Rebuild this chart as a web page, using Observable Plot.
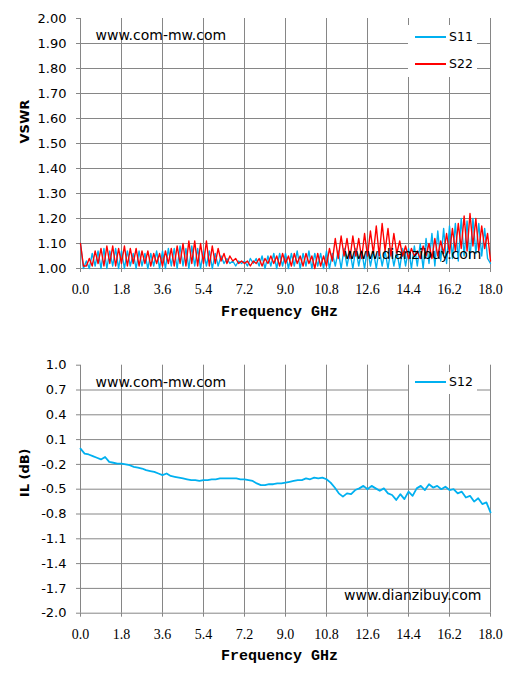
<!DOCTYPE html>
<html><head><meta charset="utf-8">
<script src="https://cdn.jsdelivr.net/npm/d3@7"></script>
<script src="https://cdn.jsdelivr.net/npm/@observablehq/plot@0.6"></script>
<style>
body{margin:0;background:#fff;width:515px;height:694px;position:relative;overflow:hidden;font-family:"DejaVu Sans",sans-serif}
.chart{position:absolute;left:0}
.lg{position:absolute;background:#fff}
.sw{position:absolute;height:1.5px}
.lt{position:absolute;font:12.5px "DejaVu Sans",sans-serif;color:#000;line-height:14px}
</style></head><body>
<div id="top" class="chart" style="top:0"></div>
<div id="bot" class="chart" style="top:340px"></div>
<script>
// ---- data ----
const xTicks = [0, 1.8, 3.6, 5.4, 7.2, 9.0, 10.8, 12.6, 14.4, 16.2, 18.0];
const vswrTicks = [1.0, 1.1, 1.2, 1.3, 1.4, 1.5, 1.6, 1.7, 1.8, 1.9, 2.0];
const ilTicks = [-2.0, -1.7, -1.4, -1.1, -0.8, -0.5, -0.2, 0.1, 0.4, 0.7, 1.0];
const vswrStep = 1.8 / 14; // GHz between samples
const s11 = [
  1.10,1.00,1.03,1.00,1.06,1.01,1.07,1.00,1.08,1.00,1.07,1.01,1.08,1.00,
  1.07,1.00,1.07,1.01,1.06,1.00,1.07,1.01,1.06,1.00,1.06,1.01,1.07,1.00,
  1.07,1.00,1.08,1.01,1.08,1.00,1.09,1.01,1.08,1.00,1.09,1.01,1.08,1.00,
  1.07,1.01,1.07,1.00,1.06,1.01,1.05,1.02,1.04,1.02,1.03,1.01,1.03,1.02,
  1.03,1.01,1.04,1.02,1.04,1.01,1.05,1.00,1.05,1.01,1.06,1.00,1.06,1.01,
  1.06,1.00,1.06,1.01,1.07,1.00,1.06,1.01,1.07,1.00,1.06,1.01,1.06,1.00,
  1.07,1.00,1.06,1.01,1.07,1.00,1.08,1.01,1.07,1.00,1.08,1.01,1.07,1.00,
  1.08,1.01,1.07,1.00,1.08,1.01,1.07,1.00,1.08,1.01,1.07,1.00,1.08,1.01,
  1.08,1.00,1.09,1.01,1.10,1.00,1.12,1.02,1.14,1.01,1.15,1.03,1.16,1.02,
  1.17,1.04,1.18,1.03,1.20,1.05,1.19,1.04,1.20,1.06,1.18,1.05,1.16,1.04,
  1.02
];
const s22 = [
  1.10,1.01,1.01,1.04,1.01,1.07,1.02,1.08,1.01,1.09,1.02,1.09,1.01,1.08,
  1.02,1.09,1.01,1.08,1.02,1.08,1.01,1.07,1.02,1.07,1.01,1.06,1.02,1.06,
  1.01,1.07,1.02,1.08,1.01,1.09,1.02,1.10,1.01,1.11,1.02,1.11,1.01,1.10,
  1.02,1.11,1.01,1.09,1.02,1.08,1.03,1.06,1.02,1.05,1.03,1.04,1.02,1.03,
  1.02,1.03,1.01,1.03,1.02,1.04,1.01,1.04,1.02,1.05,1.02,1.05,1.01,1.06,
  1.02,1.05,1.01,1.06,1.02,1.05,1.01,1.06,1.02,1.05,1.00,1.06,1.01,1.05,
  1.01,1.08,1.03,1.12,1.04,1.13,1.05,1.12,1.04,1.13,1.05,1.12,1.04,1.14,
  1.05,1.15,1.06,1.17,1.05,1.18,1.07,1.16,1.05,1.14,1.06,1.11,1.05,1.09,
  1.04,1.08,1.05,1.07,1.04,1.09,1.05,1.10,1.04,1.12,1.05,1.11,1.06,1.14,
  1.06,1.16,1.07,1.18,1.08,1.21,1.07,1.22,1.09,1.20,1.07,1.17,1.08,1.14,
  1.03
];
const ilStep = 0.18; // GHz between samples
const s12 = [
  -0.01,-0.07,-0.08,-0.10,-0.12,-0.14,-0.11,-0.17,-0.18,-0.19,
  -0.19,-0.20,-0.21,-0.23,-0.24,-0.25,-0.27,-0.28,-0.29,-0.31,
  -0.33,-0.31,-0.34,-0.35,-0.36,-0.37,-0.38,-0.39,-0.39,-0.40,
  -0.39,-0.39,-0.38,-0.38,-0.37,-0.37,-0.37,-0.37,-0.37,-0.38,
  -0.38,-0.39,-0.40,-0.43,-0.45,-0.45,-0.44,-0.44,-0.43,-0.43,
  -0.42,-0.41,-0.40,-0.39,-0.39,-0.37,-0.38,-0.36,-0.37,-0.36,
  -0.38,-0.42,-0.48,-0.55,-0.59,-0.55,-0.56,-0.51,-0.49,-0.46,
  -0.50,-0.46,-0.49,-0.52,-0.49,-0.55,-0.57,-0.63,-0.56,-0.62,
  -0.53,-0.58,-0.49,-0.46,-0.51,-0.44,-0.48,-0.46,-0.50,-0.47,
  -0.51,-0.50,-0.55,-0.53,-0.60,-0.58,-0.65,-0.61,-0.68,-0.66,
  -0.78
];
const colors = {S11: "#00b0f0", S22: "#ff0000", S12: "#00b0f0"};

// ---- build tables ----
const vswrData = [
  ...s11.map((v, i) => ({f: i * vswrStep, v, s: "S11"})),
  ...s22.map((v, i) => ({f: i * vswrStep, v, s: "S22"}))
];
const ilData = s12.map((v, i) => ({f: i * ilStep, v, s: "S12"}));

const grid = "#868686";
const tickFont = {fontFamily: "'DejaVu Sans', sans-serif", fontSize: 13};

function makeChart({data, series, yTicks, yFmt, yLabel, height, marginTop, marginBottom, sw, yLabelDy}) {
  return Plot.plot({
    width: 515, height, marginLeft: 80, marginRight: 25, marginTop, marginBottom,
    style: {background: "#fff", color: "#000", overflow: "visible"},
    x: {domain: [0, 18]},
    y: {domain: [yTicks[0], yTicks[yTicks.length - 1]]},
    marks: [
      Plot.ruleX(xTicks, {stroke: grid, strokeWidth: 1}),
      Plot.ruleY(yTicks.slice(0, -1), {stroke: grid, strokeWidth: 1}),
      Plot.axisY({ticks: yTicks, tickSize: 4, tickPadding: 10, tickFormat: yFmt, stroke: grid, label: null, ...tickFont}),
      Plot.axisX({ticks: xTicks, tickSize: 4, tickPadding: 12, tickFormat: d => d.toFixed(1), stroke: grid, label: null,
        fontFamily: "'Liberation Serif', serif", fontSize: 14}),
      ...series.map(s => Plot.line(data.filter(d => d.s === s), {x: "f", y: "v", stroke: colors[s], strokeWidth: sw, strokeLinejoin: "round"})),
      Plot.text(["www.com-mw.com"], {frameAnchor: "top-left", textAnchor: "start", dx: 15, dy: 12, fontSize: 14, fontFamily: "'DejaVu Sans', sans-serif", fill: "#000"}),
      Plot.text(["www.dianzibuy.com"], {frameAnchor: "bottom-right", textAnchor: "end", dx: -9, dy: yLabelDy.wm, fontSize: 14, fontFamily: "'DejaVu Sans', sans-serif", fill: "#000"}),
      Plot.text([yLabel], {frameAnchor: "left", rotate: -90, dx: -56, dy: yLabelDy.y, fontSize: 13, fontWeight: "bold", fontFamily: "'DejaVu Sans', sans-serif", fill: "#000"}),
      Plot.text(["Frequency GHz"], {frameAnchor: "bottom", dx: -6, dy: 47, fontSize: 15, fontWeight: "bold", fontFamily: "'Liberation Mono', monospace", fill: "#000"})
    ]
  });
}

document.getElementById("top").append(makeChart({
  data: vswrData, series: ["S11", "S22"], yTicks: vswrTicks, yFmt: d => d.toFixed(2), yLabel: "VSWR",
  height: 340, marginTop: 18, marginBottom: 72, sw: 1.4, yLabelDy: {wm: -10, y: 0}
}));
document.getElementById("bot").append(makeChart({
  data: ilData, series: ["S12"], yTicks: ilTicks, yFmt: d => d.toFixed(1), yLabel: "IL (dB)",
  height: 354, marginTop: 24.7, marginBottom: 81.3, sw: 1.8, yLabelDy: {wm: -13, y: 8}
}));

// ---- legends (HTML overlay) ----
function legend(box, items) {
  const b = document.createElement("div");
  b.className = "lg";
  Object.assign(b.style, {left: box[0] + "px", top: box[1] + "px", width: box[2] + "px", height: box[3] + "px"});
  document.body.append(b);
  items.forEach(([name, y]) => {
    const s = document.createElement("div");
    s.className = "sw";
    Object.assign(s.style, {left: "415px", top: (y - 0.75) + "px", width: "31px", background: colors[name]});
    document.body.append(s);
    const t = document.createElement("div");
    t.className = "lt";
    t.textContent = name;
    Object.assign(t.style, {left: "449px", top: (y - 7) + "px"});
    document.body.append(t);
  });
}
legend([408, 25, 69, 52], [["S11", 37], ["S22", 64]]);
legend([409, 372, 68, 22], [["S12", 382]]);
</script>
</body></html>
